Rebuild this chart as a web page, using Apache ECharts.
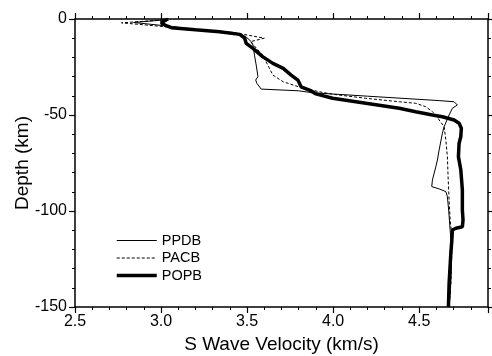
<!DOCTYPE html>
<html><head><meta charset="utf-8">
<script src="https://cdn.jsdelivr.net/npm/echarts@6/dist/echarts.min.js"></script>
<style>html,body{margin:0;padding:0;background:#fff}#c{width:492px;height:356px}</style>
</head><body><div id="c"></div>
<script>
const seriesNames = ['PPDB', 'PACB', 'POPB'];
const xTickLabels = ['2.5', '3.0', '3.5', '4.0', '4.5'];
const yTickLabels = ['0', '-50', '-100', '-150'];
// [velocity km/s, depth km]
const ppdb = [[3.04,-0.3],[2.84,-1.8],[3.05,-3.8],[3.2,-5.4],[3.42,-7.0],[3.49,-9.0],[3.524,-11.8],[3.534,-13.5],[3.543,-18.8],[3.553,-24.0],[3.563,-30.0],[3.55,-31.8],[3.557,-33.5],[3.582,-36.5],[3.80,-37.4],[3.88,-38.4],[4.2,-40.2],[4.616,-42.5],[4.703,-43.1],[4.722,-44.8],[4.693,-46.5],[4.674,-50.0],[4.645,-56.1],[4.635,-59.5],[4.616,-68.2],[4.606,-73.4],[4.597,-76.9],[4.577,-83.9],[4.573,-87.3],[4.616,-88.5],[4.655,-89.9],[4.664,-92.5],[4.672,-100],[4.68,-110],[4.688,-120],[4.684,-137.5],[4.674,-150]];
const pacb = [[3.04,-0.3],[2.77,-2.0],[3.06,-4.3],[3.2,-5.6],[3.42,-7.2],[3.457,-7.6],[3.60,-10.0],[3.52,-11.8],[3.59,-18.8],[3.62,-24.0],[3.65,-29.2],[3.71,-32.7],[3.80,-35.3],[3.92,-37.9],[3.997,-39.2],[4.19,-41.3],[4.384,-43.1],[4.48,-43.9],[4.539,-45.7],[4.577,-48.3],[4.606,-50.9],[4.616,-52.6],[4.645,-56.1],[4.655,-63.0],[4.664,-71.7],[4.668,-82.1],[4.674,-94.3],[4.68,-104.7],[4.684,-108.2],[4.69,-111.5],[4.69,-120.3],[4.684,-137.5],[4.674,-150]];
const popb = [[3.04,0],[3.0,-2.0],[3.03,-3.5],[3.06,-4.5],[3.2,-5.6],[3.34,-6.6],[3.457,-8.0],[3.486,-10.0],[3.495,-12.7],[3.534,-15.3],[3.59,-19.6],[3.65,-23.1],[3.71,-25.7],[3.756,-29.2],[3.795,-31.8],[3.814,-35.3],[3.862,-37.0],[3.90,-39.0],[3.997,-41.3],[4.19,-43.9],[4.384,-46.5],[4.48,-48.3],[4.577,-50.0],[4.635,-50.9],[4.703,-52.6],[4.732,-54.3],[4.745,-56.9],[4.742,-61.3],[4.732,-64.7],[4.728,-71.7],[4.742,-78.6],[4.751,-89.1],[4.751,-99.5],[4.755,-104.7],[4.751,-108.2],[4.713,-109.0],[4.693,-109.9],[4.69,-115.1],[4.684,-122.0],[4.674,-137.7],[4.67,-150]];

const FONT = 'Liberation Sans';
const styles = {
  PPDB: {color: '#000', width: 1, type: 'solid'},
  PACB: {color: '#000', width: 1, type: [3, 2]},
  POPB: {color: '#000', width: 3.5, type: 'solid'}
};
const axisLine = {show: true, onZero: false, lineStyle: {color: '#000', width: 1.5}};
const axisTick = {show: true, inside: false, length: 6, lineStyle: {color: '#000', width: 1.2}};
const minorTick = {show: true, splitNumber: 5, length: 3, lineStyle: {color: '#000', width: 1}};
const chart = echarts.init(document.getElementById('c'), null, {renderer: 'canvas'});
chart.setOption({
  animation: false,
  backgroundColor: '#fff',
  grid: {left: 75, right: 4, top: 19, bottom: 49, containLabel: false, outerBoundsMode: 'none'},
  legend: {
    orient: 'vertical', left: 110, top: 228, itemWidth: 40, itemHeight: 10, itemGap: 2.5,
    itemStyle: {opacity: 0},
    textStyle: {fontFamily: FONT, fontSize: 14.5, color: '#000', padding: [0,0,0,0]},
    data: seriesNames.map(n => ({name: n, lineStyle: styles[n]}))
  },
  xAxis: [{
    type: 'value', min: 2.5, max: 4.9, interval: 0.5, position: 'bottom',
    name: 'S Wave Velocity (km/s)', nameLocation: 'middle', nameGap: 27,
    nameTextStyle: {fontFamily: FONT, fontSize: 19, color: '#000'},
    axisLine, axisTick, minorTick, splitLine: {show: false},
    axisLabel: {fontFamily: FONT, fontSize: 16, color: '#000', margin: 7, showMaxLabel: false,
      formatter: v => { const s = v.toFixed(1); return xTickLabels.includes(s) ? s : ''; }}
  }, {
    type: 'value', min: 2.5, max: 4.9, interval: 0.5, position: 'top',
    axisLine, axisTick, minorTick, splitLine: {show: false}, axisLabel: {show: false}
  }],
  yAxis: [{
    type: 'value', min: -150, max: 0, interval: 50, position: 'left',
    name: 'Depth (km)', nameLocation: 'middle', nameGap: 43, nameMoveOverlap: false,
    nameTextStyle: {fontFamily: FONT, fontSize: 19, color: '#000'},
    axisLine, axisTick, minorTick, splitLine: {show: false},
    axisLabel: {fontFamily: FONT, fontSize: 16, color: '#000', margin: 8,
      formatter: v => { const s = String(Math.round(v)); return yTickLabels.includes(s) ? s : ''; }}
  }, {
    type: 'value', min: -150, max: 0, interval: 50, position: 'right',
    axisLine, axisTick, minorTick, splitLine: {show: false}, axisLabel: {show: false}
  }],
  series: seriesNames.map((n, i) => ({
    name: n, type: 'line', data: [ppdb, pacb, popb][i], symbol: 'none',
    lineStyle: styles[n], itemStyle: {color: '#000'}
  }))
});
</script></body></html>
